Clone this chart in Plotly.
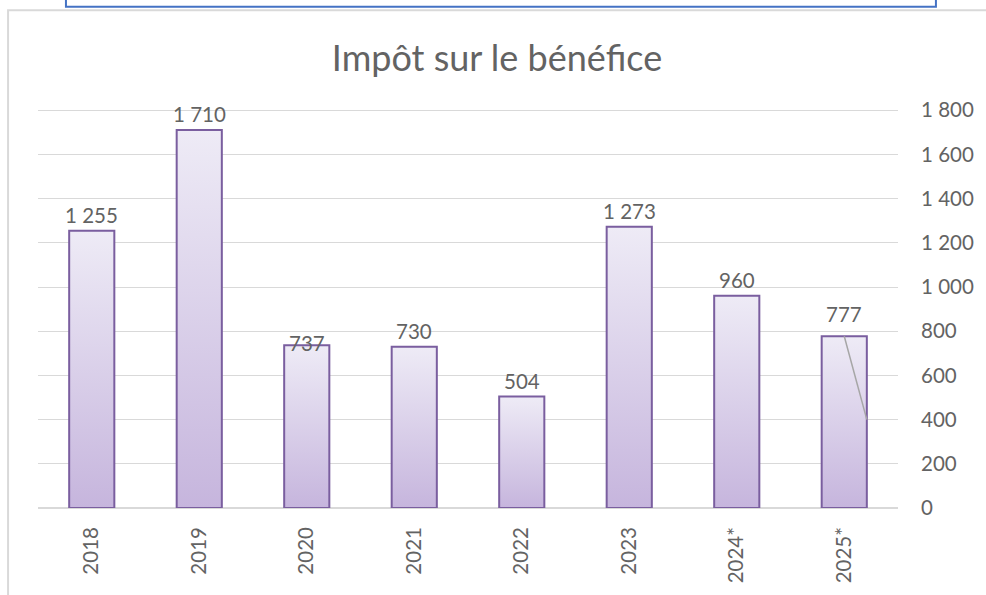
import plotly.graph_objects as go

# ---- data ----
categories = ["2018", "2019", "2020", "2021", "2022", "2023", "2024*", "2025*"]
values = [1255, 1710, 737, 730, 504, 1273, 960, 777]
value_labels = ["1 255", "1 710", "737", "730", "504", "1 273", "960", "777"]
title_text = "Impôt sur le bénéfice"
y_ticks = [0, 200, 400, 600, 800, 1000, 1200, 1400, 1600, 1800]

# ---- style ----
FONT = "Lato"
TXT = "#636363"
GRID = "#D9D9D9"
BAR_TOP = "#EEEBF6"
BAR_BOTTOM = "#C6B5DD"
BAR_LINE = "#7A5E9F"
HALF_W = 0.21
FS = 20.5
label_shift = [2, 2, -12, 2, 2, 2, 2, 8]  # px offsets of data labels
leader_target = 400  # where the 2025* leader line ends

fig = go.Figure()

for i, (c, v) in enumerate(zip(categories, values)):
    xs = [i - HALF_W, i - HALF_W, i + HALF_W, i + HALF_W, i - HALF_W]
    ys = [0, v, v, 0, 0]
    fig.add_trace(go.Scatter(
        x=xs, y=ys, mode="lines", fill="toself",
        fillgradient=dict(type="vertical",
                          colorscale=[[0, BAR_BOTTOM], [1, BAR_TOP]]),
        line=dict(color=BAR_LINE, width=2),
        hoverinfo="skip", showlegend=False, name=c,
    ))

# data labels
for i, (v, t) in enumerate(zip(values, value_labels)):
    fig.add_annotation(x=i, y=v, text=t, showarrow=False,
                       yanchor="bottom", yshift=label_shift[i],
                       font=dict(family=FONT, size=FS, color=TXT))

# leader line for the last label
last = len(values) - 1
fig.add_shape(type="line", x0=last, y0=values[last], x1=last + HALF_W,
              y1=leader_target, line=dict(color="#A6A6A6", width=1.5))

# frame decorations (gray chart border and blue box at top)
fig.add_shape(type="rect", xref="paper", yref="paper",
              x0=-0.0348, x1=1.25, y0=-0.35, y1=1.2444,
              line=dict(color=GRID, width=2), layer="below")
fig.add_shape(type="rect", xref="paper", yref="paper",
              x0=0.0325, x1=1.0441, y0=1.2531, y1=1.35,
              line=dict(color="#4472C4", width=2), layer="below")

fig.update_layout(
    width=986, height=595,
    margin=dict(l=38, r=86, t=108, b=84),
    paper_bgcolor="white", plot_bgcolor="white",
    separators=", ",
    title=dict(text=title_text, x=497 / 986, xanchor="center",
               y=1 - 58 / 595, yanchor="middle", yref="container",
               font=dict(family=FONT, size=36, color=TXT)),
    xaxis=dict(range=[-0.5, len(categories) - 0.5],
               tickvals=list(range(len(categories))), ticktext=categories,
               tickangle=-90, showgrid=False, zeroline=False,
               showline=False, ticks="", ticklabelstandoff=14,
               tickfont=dict(family=FONT, size=FS, color=TXT),
               fixedrange=True),
    yaxis=dict(range=[0, 1810], side="right", tickvals=y_ticks,
               tickformat=",d", showgrid=True, gridcolor=GRID, gridwidth=1,
               zeroline=True, zerolinecolor=GRID, zerolinewidth=1.5,
               showline=False, ticks="", ticklabelstandoff=22,
               tickfont=dict(family=FONT, size=FS, color=TXT),
               fixedrange=True),
    showlegend=False,
)

fig.write_html(
    "out.html",
    config={"displayModeBar": False},
    post_script="document.body.style.margin='0px';document.body.style.overflow='hidden';",
)
